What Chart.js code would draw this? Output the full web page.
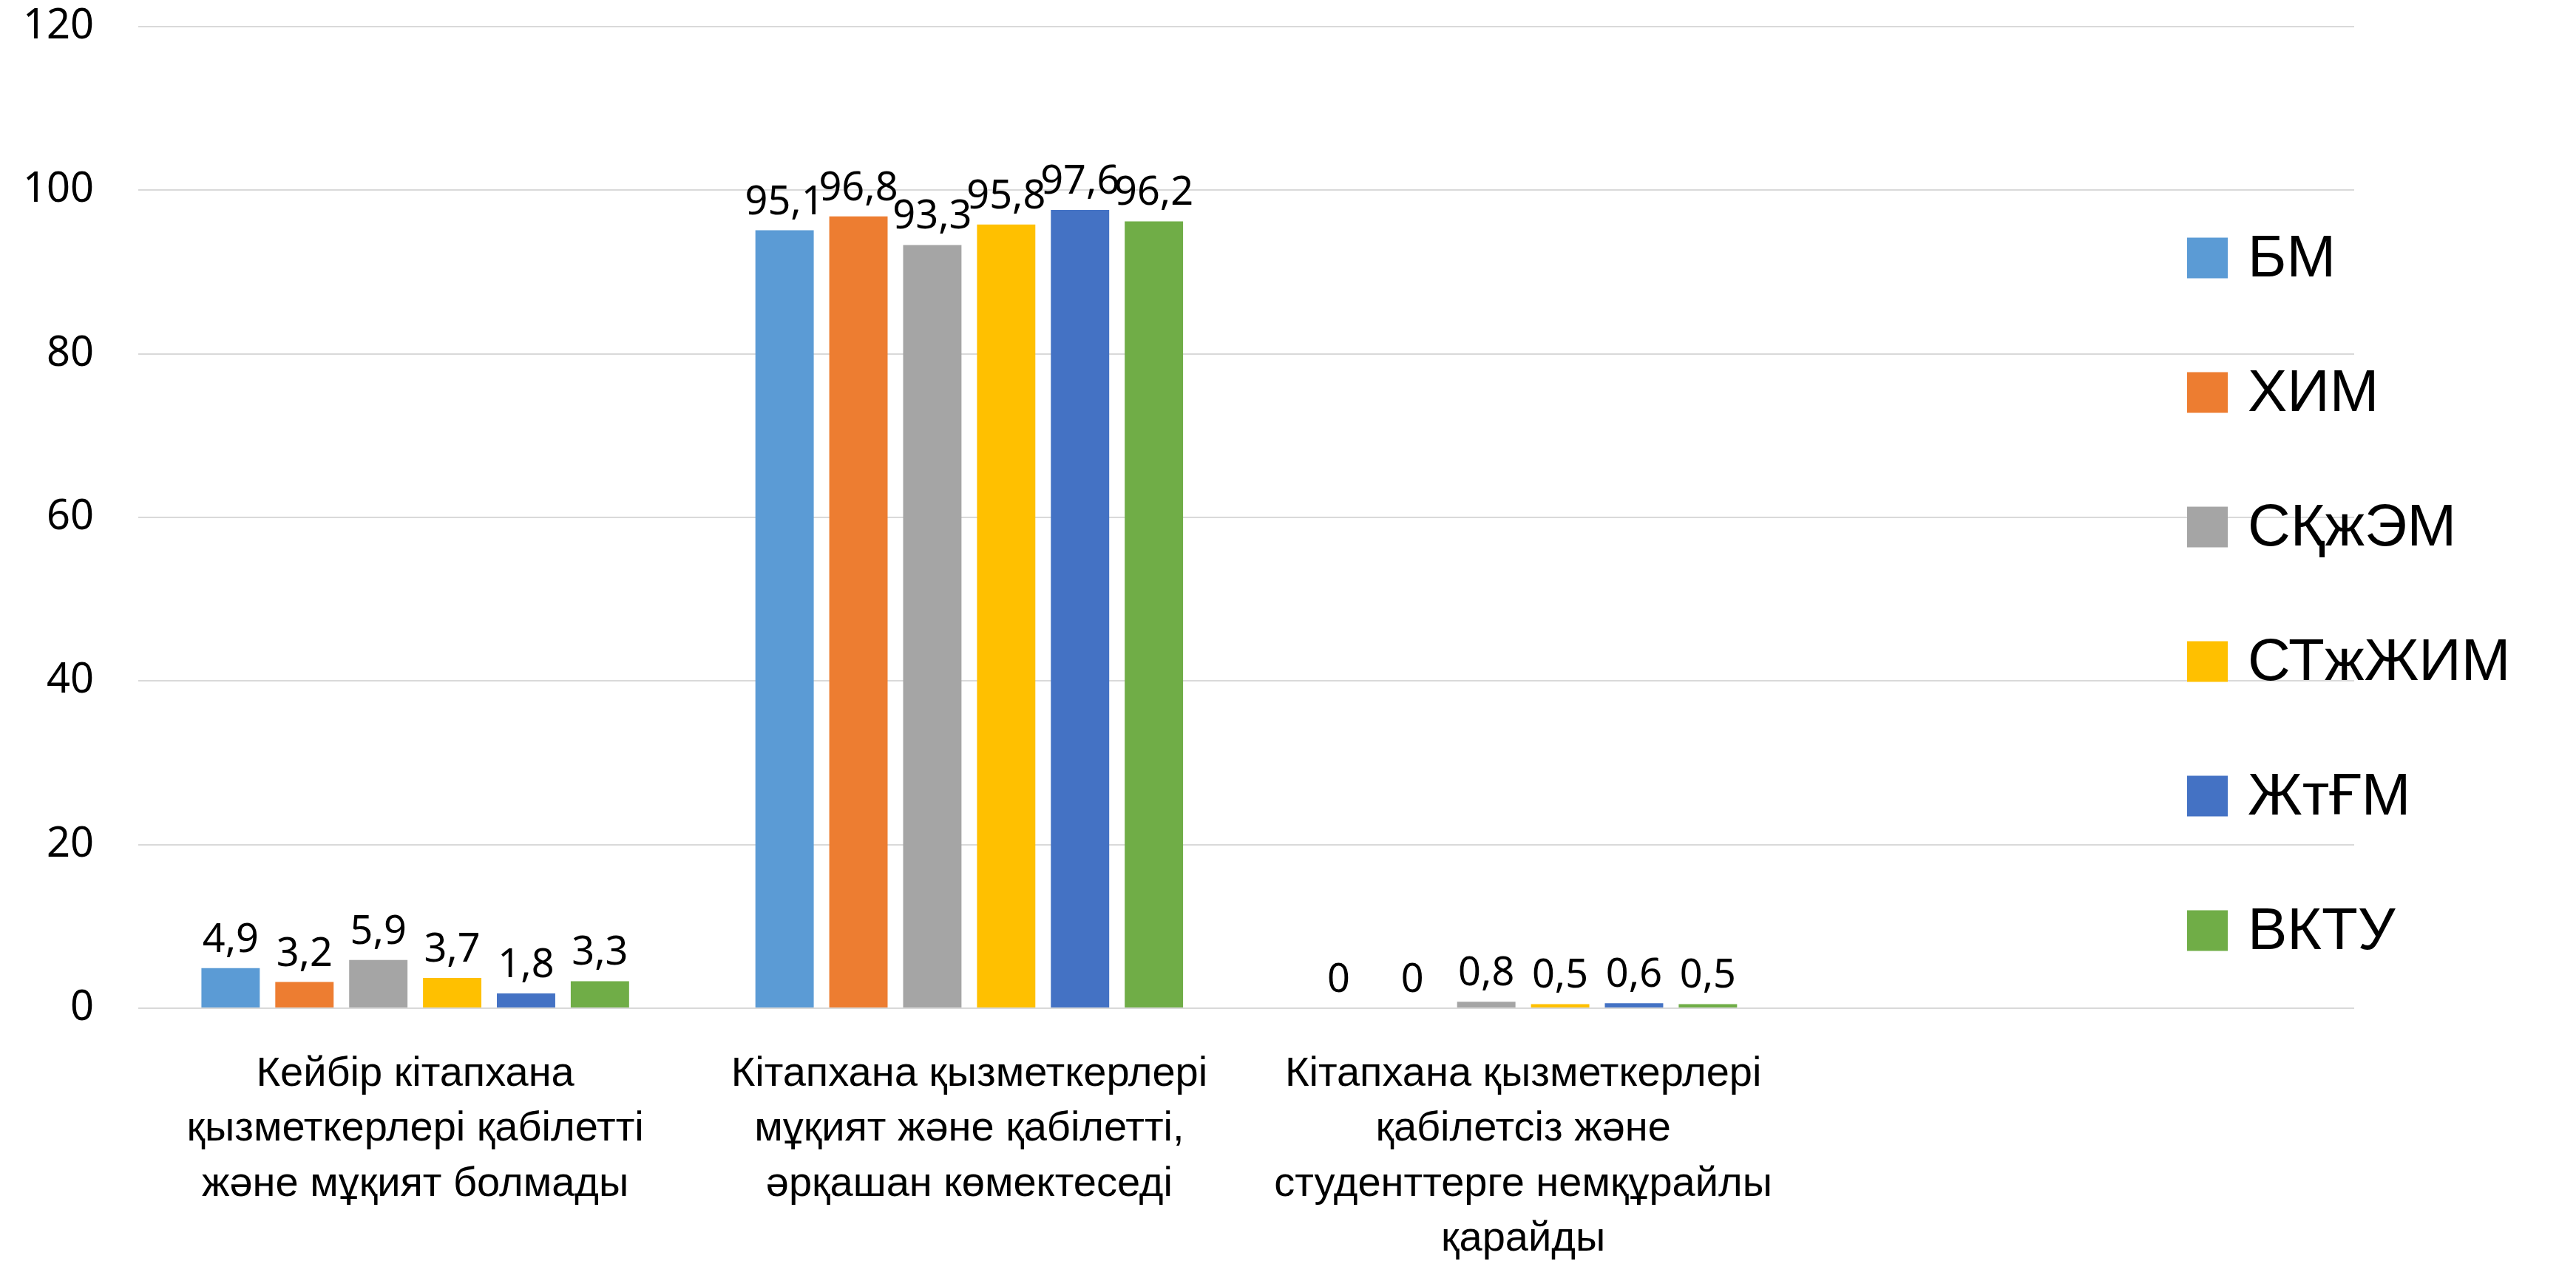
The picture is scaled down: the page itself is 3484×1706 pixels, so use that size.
<!DOCTYPE html>
<html>
<head>
<meta charset="utf-8">
<script src="https://cdn.jsdelivr.net/npm/chart.js@4.4.0/dist/chart.umd.min.js"></script>
<style>
    html, body { margin: 0; padding: 0; background: #ffffff; }
</style>
</head>
<body>
<canvas id="graficoReporte" width="3484" height="1706"></canvas>
<script>
// Categorías (la cuarta queda vacía, como en el original)
const categorias = [
    ['Кейбір кітапхана', 'қызметкерлері қабілетті', 'және мұқият болмады'],
    ['Кітапхана қызметкерлері', 'мұқият және қабілетті,', 'әрқашан көмектеседі'],
    ['Кітапхана қызметкерлері', 'қабілетсіз және', 'студенттерге немқұрайлы', 'қарайды'],
    ''
];

// Series
const nombresSeries = ['БМ', 'ХИМ', 'СҚжЭМ', 'СТжЖИМ', 'ЖтҒМ', 'ВКТУ'];
const coloresSeries = ['#5B9BD5', '#ED7D31', '#A5A5A5', '#FFC000', '#4472C4', '#70AD47'];

const valoresBM      = [4.9, 95.1, 0, null];
const valoresXIM     = [3.2, 96.8, 0, null];
const valoresSKzhEM  = [5.9, 93.3, 0.8, null];
const valoresSTzhJIM = [3.7, 95.8, 0.5, null];
const valoresZhtGM   = [1.8, 97.6, 0.6, null];
const valoresVKTU    = [3.3, 96.2, 0.5, null];

const valoresSeries = [valoresBM, valoresXIM, valoresSKzhEM, valoresSTzhJIM, valoresZhtGM, valoresVKTU];

// Eje Y
const ejeMin = 0;
const ejeMax = 120;
const ejePaso = 20;

// Etiquetas de valor encima de cada barra (coma decimal)
const etiquetasDatos = {
    id: 'etiquetasDatos',
    afterDatasetsDraw(chart) {
        const ctx = chart.ctx;
        ctx.save();
        ctx.font = '54px "Noto Sans"';
        ctx.fillStyle = '#000000';
        ctx.textAlign = 'center';
        ctx.textBaseline = 'alphabetic';
        chart.data.datasets.forEach((ds, i) => {
            const meta = chart.getDatasetMeta(i);
            meta.data.forEach((barra, j) => {
                const v = ds.data[j];
                if (v === null || v === undefined) return;
                ctx.fillText(String(v).replace('.', ','), barra.x, barra.y - 22);
            });
        });
        ctx.restore();
    }
};

// Leyenda a la derecha, encima del área del gráfico
const leyendaDerecha = {
    id: 'leyendaDerecha',
    afterDraw(chart) {
        const ctx = chart.ctx;
        const area = chart.chartArea;
        const x0 = area.right - 226;
        const lado = 55;
        ctx.save();
        ctx.font = '80px "Liberation Sans"';
        ctx.textBaseline = 'middle';
        ctx.textAlign = 'left';
        chart.data.datasets.forEach((ds, i) => {
            const cy = 349 + i * 182;
            ctx.fillStyle = ds.backgroundColor;
            ctx.fillRect(x0, cy - lado / 2, lado, lado);
            ctx.fillStyle = '#000000';
            ctx.fillText(ds.label, x0 + 82, cy + 3);
        });
        ctx.restore();
    }
};

const ctx = document.getElementById('graficoReporte');

new Chart(ctx, {
    type: 'bar',
    data: {
        labels: categorias,
        datasets: nombresSeries.map((nombre, i) => ({
            label: nombre,
            data: valoresSeries[i],
            backgroundColor: coloresSeries[i],
            borderWidth: 0,
            categoryPercentage: 0.8,
            barPercentage: 0.79
        }))
    },
    options: {
        responsive: false,
        animation: false,
        devicePixelRatio: 1,
        layout: { padding: { top: 36, right: 300, bottom: 0, left: 0 } },
        plugins: {
            legend: { display: false },
            tooltip: { enabled: false }
        },
        scales: {
            y: {
                min: ejeMin,
                max: ejeMax,
                ticks: {
                    stepSize: ejePaso,
                    color: '#000000',
                    padding: 60,
                    font: { family: '"Noto Sans"', size: 56 }
                },
                grid: { color: '#d9d9d9', lineWidth: 2, drawTicks: false },
                border: { display: false },
                afterFit(scale) {
                    scale.width = 187;
                    scale.paddingTop = 0;
                    scale.paddingBottom = 0;
                }
            },
            x: {
                ticks: {
                    color: '#000000',
                    padding: 44,
                    autoSkip: false,
                    maxRotation: 0,
                    font: { family: '"Liberation Sans"', size: 56, lineHeight: 1.33 }
                },
                grid: { display: false },
                border: { display: false },
                afterFit(scale) {
                    scale.height = 342;
                    scale.paddingTop = 0;
                }
            }
        }
    },
    plugins: [etiquetasDatos, leyendaDerecha]
});
</script>
</body>
</html>
